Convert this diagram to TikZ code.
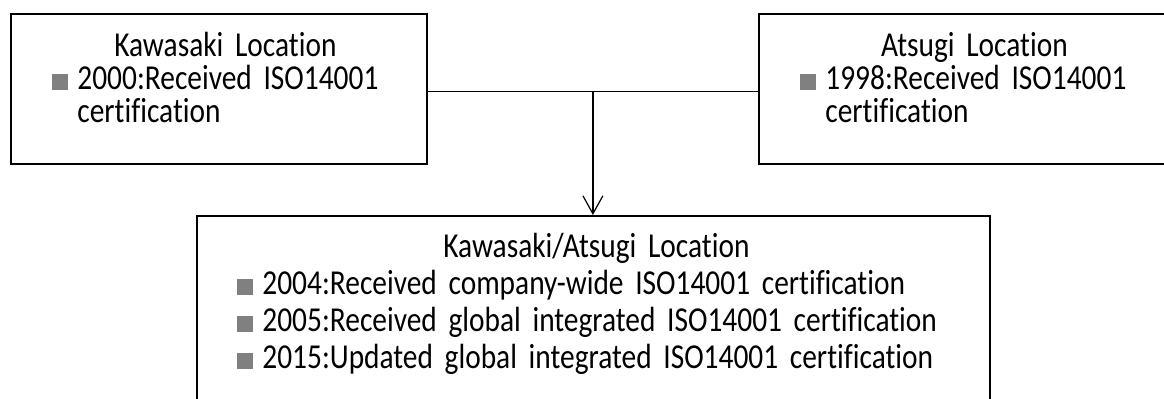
\documentclass[tikz,border=0pt]{standalone}
\usepackage{fontspec}
\setmainfont{Carlito}[FakeStretch=0.84, WordSpace=0.65, Ligatures=NoCommon]
\usepackage{xcolor}
\usetikzlibrary{calc, positioning, arrows.meta}
\definecolor{bulletgray}{RGB}{128,128,128}
\newcommand{\sqbul}{\textcolor{bulletgray}{\rule{8pt}{8pt}}\hspace{4.5pt}}
\newcommand{\sqgap}{\hspace*{12.5pt}}

\begin{document}
\begin{tikzpicture}[x=1pt, y=1pt,
    box/.style={draw, line width=0.9pt, inner sep=0pt, anchor=north west},
    info/.style={anchor=base west, inner sep=0pt, align=left, font=\fontsize{17.5}{16.5}\selectfont},
    link/.style={line width=0.6pt}]
    \useasboundingbox (0,0) rectangle (582,-199.5);

    % Sites
    \node[box, minimum width=208pt, minimum height=75pt] (kawasaki) at (5,-6.5) {};
    \node[box, minimum width=216pt, minimum height=75pt] (atsugi) at (379,-6.5) {};
    \node[box, minimum width=396.5pt, minimum height=110pt] (merged) at (98,-107.5) {};

    % Texts
    \node[info, text width=173pt] (kawasakiText) at (26,-28.5)
        {{\centering Kawasaki Location\par}\sqbul 2000:Received ISO14001\\\sqgap certification};
    \node[info, text width=174pt] (atsugiText) at (400,-28.5)
        {{\centering Atsugi Location\par}\sqbul 1998:Received ISO14001\\\sqgap certification};
    \node[info, text width=359pt, font=\fontsize{17.5}{18.5}\selectfont] (mergedText) at (118.5,-129)
        {{\centering Kawasaki/Atsugi Location\par}\sqbul 2004:Received company-wide ISO14001 certification\\
         \sqbul 2005:Received global integrated ISO14001 certification\\
         \sqbul 2015:Updated global integrated ISO14001 certification};

    % Join
    \draw[link] ([yshift=-1.5pt]kawasaki.east) -- ([yshift=-1.5pt]atsugi.west);
    \coordinate (split) at ($([yshift=-1.5pt]kawasaki.east)!0.5!([yshift=-1.5pt]atsugi.west)$);
    \draw[link, -{Straight Barb[length=9pt, width=10pt]}] (split) -- (split |- merged.north);
\end{tikzpicture}
\end{document}
